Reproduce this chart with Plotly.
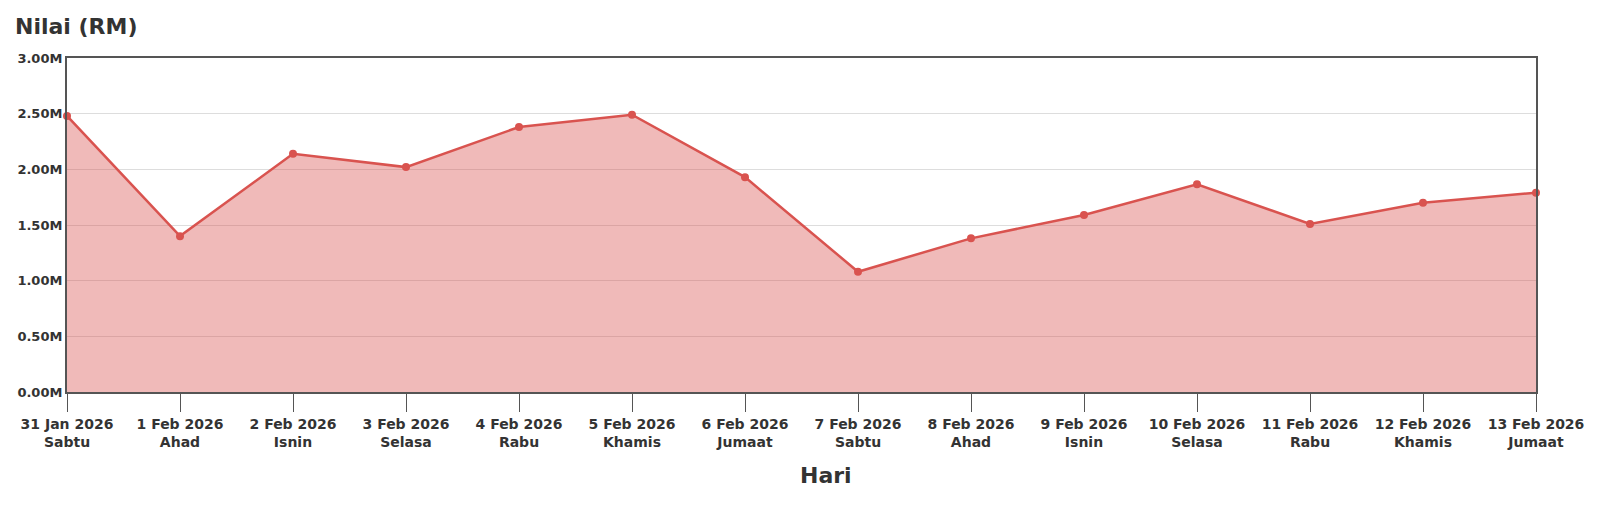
import plotly.graph_objects as go

tarikh = ["31 Jan 2026", "1 Feb 2026", "2 Feb 2026", "3 Feb 2026", "4 Feb 2026",
          "5 Feb 2026", "6 Feb 2026", "7 Feb 2026", "8 Feb 2026", "9 Feb 2026",
          "10 Feb 2026", "11 Feb 2026", "12 Feb 2026", "13 Feb 2026"]
hari = ["Sabtu", "Ahad", "Isnin", "Selasa", "Rabu", "Khamis", "Jumaat",
        "Sabtu", "Ahad", "Isnin", "Selasa", "Rabu", "Khamis", "Jumaat"]
nilai = [2.48e6, 1.40e6, 2.14e6, 2.02e6, 2.38e6, 2.49e6, 1.93e6,
         1.08e6, 1.38e6, 1.59e6, 1.866e6, 1.51e6, 1.70e6, 1.79e6]

y_ticks = [0, 0.5e6, 1.0e6, 1.5e6, 2.0e6, 2.5e6, 3.0e6]
y_labels = ["0.00M", "0.50M", "1.00M", "1.50M", "2.00M", "2.50M", "3.00M"]

labels = [f"{t}<br>{h}" for t, h in zip(tarikh, hari)]
merah = "#d9534f"
teks = "#333333"


def fon(size):
    return dict(family="DejaVu Sans", size=size, color=teks, weight="bold")


fig = go.Figure()

fig.add_trace(go.Scatter(
    x=labels, y=nilai, mode="lines+markers",
    line=dict(color=merah, width=2.5),
    marker=dict(color=merah, size=8),
    fill="tozeroy", fillcolor="rgba(217,83,79,0.4)",
    cliponaxis=False, showlegend=False,
))

# page has a body margin, so margins are offset by it
fig.update_layout(
    width=1600, height=523,
    margin=dict(l=59, r=72, t=50, b=139),
    plot_bgcolor="white", paper_bgcolor="white",
    font=fon(13),
    title=dict(text="Nilai (RM)", x=7 / 1600, xanchor="left",
               y=1 - 18 / 523, yanchor="middle", font=fon(22)),
    xaxis=dict(
        type="category", range=[0, len(labels) - 1], automargin=False,
        showline=True, linecolor="#555555", linewidth=2, mirror=True,
        ticks="outside", ticklen=18, tickcolor="#555555", tickwidth=1,
        showgrid=False, tickfont=fon(14),
    ),
    yaxis=dict(
        range=[0, 3.0e6], tickvals=y_ticks, ticktext=y_labels, automargin=False,
        showline=True, linecolor="#555555", linewidth=2, mirror=True,
        showgrid=True, gridcolor="#dddddd", gridwidth=1,
        zeroline=False, tickfont=fon(13),
    ),
    annotations=[dict(
        text="Hari", xref="paper", yref="paper",
        x=(826 - 66) / 1471, y=(392 - 476) / 335,
        xanchor="center", yanchor="middle", showarrow=False,
        font=fon(22),
    )],
)

fig.write_html("out.html")
